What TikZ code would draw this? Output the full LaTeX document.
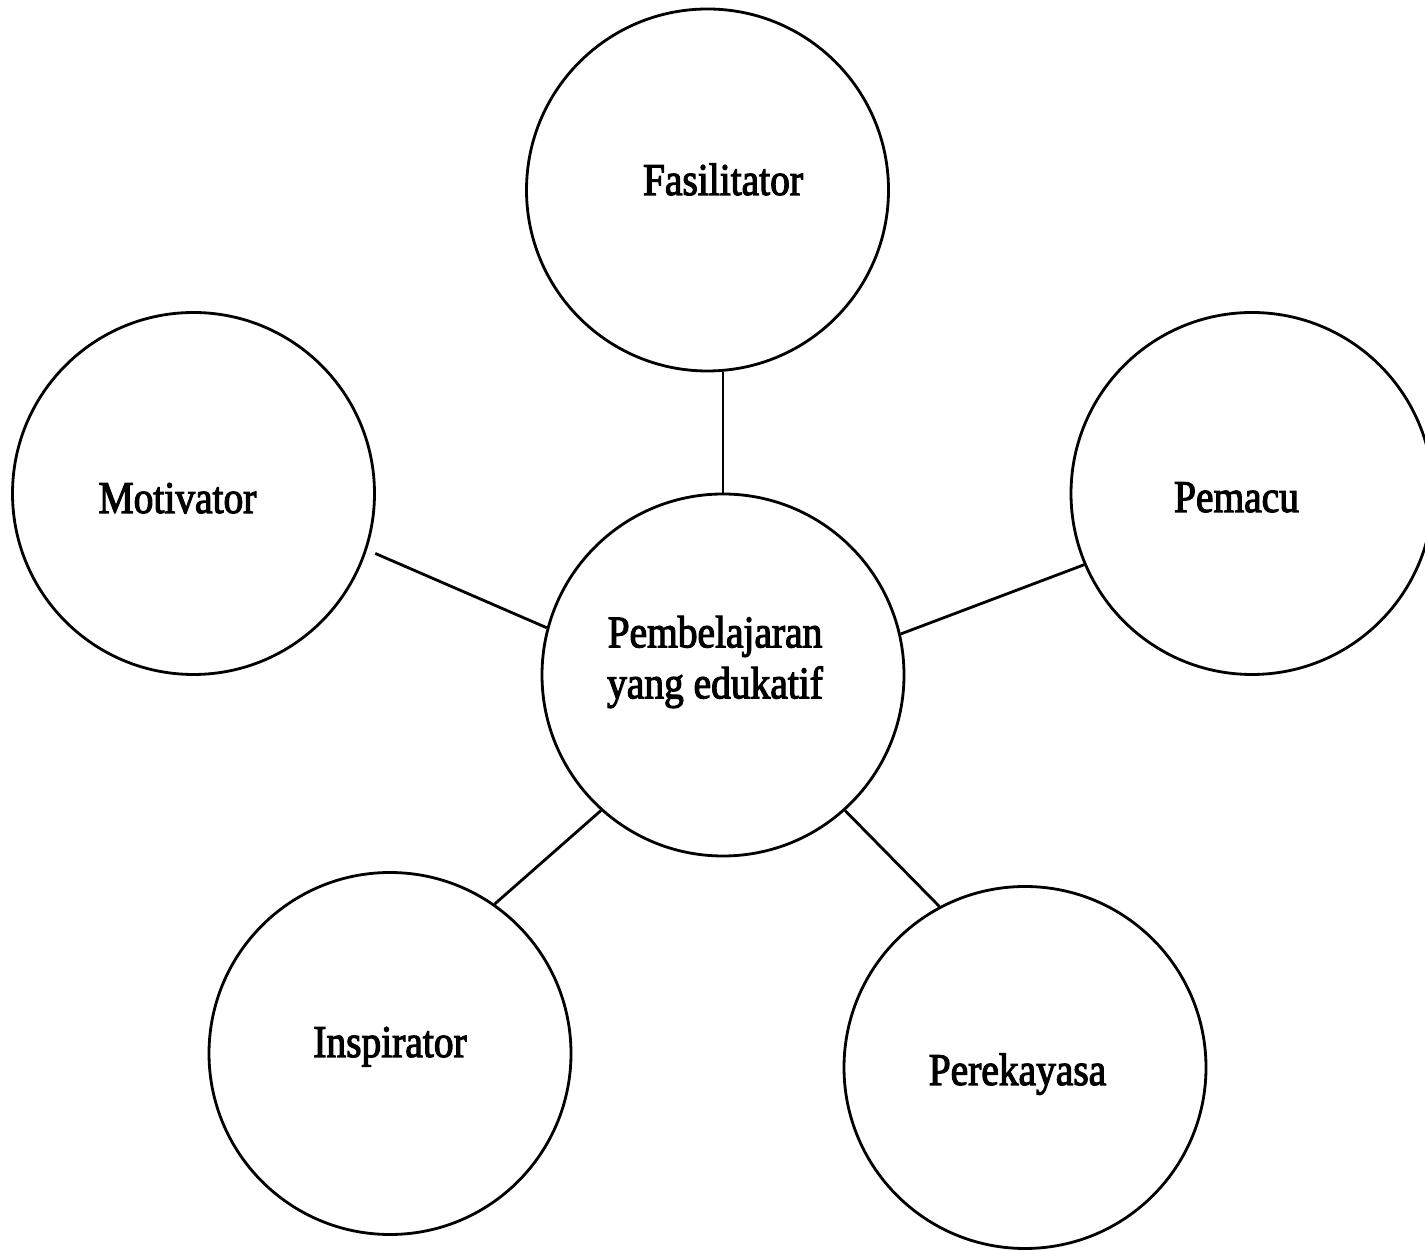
\documentclass[tikz,border=0pt]{standalone}
\usepackage{fontspec}
\setmainfont{Liberation Serif}[FakeStretch=0.87, FakeBold=2.5]
\usepackage{tikz}
\usetikzlibrary{positioning, calc}

\begin{document}
\begin{tikzpicture}[
  role/.style={draw, circle, line width=1.6pt, minimum size=7.24cm, inner sep=0pt},
  lbl/.style={font=\fontsize{25.8}{29}\selectfont, inner sep=0pt},
  link/.style={line width=1.6pt},
]
  \useasboundingbox (0, 0) rectangle (28.5, 25);

  % circles
  \node[role] (c)   at (14.46, 11.5)  {};
  \node[role] (fas) at (14.15, 21.2)  {};
  \node[role] (mot) at (3.87, 15.13)  {};
  \node[role] (pem) at (25.04, 15.13) {};
  \node[role] (ins) at (7.8, 3.93)    {};
  \node[role] (per) at (20.5, 3.65)   {};

  % texts
  \node[lbl, align=center] (ct) at (14.3, 11.76) {Pembelajaran\\yang edukatif};
  \node[lbl, anchor=base] (fast) at (14.46, 21.1) {Fasilitator};
  \node[lbl, anchor=base] (mott) at (3.55, 14.74) {Motivator};
  \node[lbl, anchor=base] (pemt) at (24.73, 14.76) {Pemacu};
  \node[lbl, anchor=base] (inst) at (7.8, 3.86) {Inspirator};
  \node[lbl, anchor=base] (pert) at (20.35, 3.3) {Perekayasa};

  % links
  \draw[link] (c.north) -- (c.north |- fas.south);
  \draw[link, shorten >=0.18cm] (c.165.8) -- (mot.-18.4);
  \draw[link] (c.13.9) -- (pem.203.5);
  \draw[link] (c.228.6) -- (ins.55.1);
  \draw[link] (c.-48.3) -- (per.118.9);
\end{tikzpicture}
\end{document}
